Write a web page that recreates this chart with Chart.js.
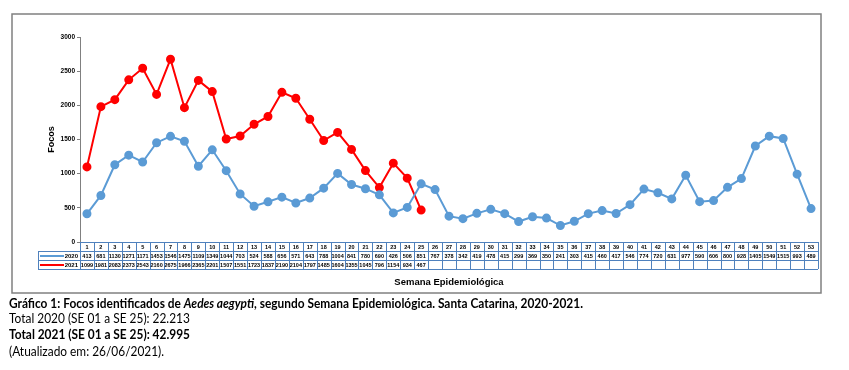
<!DOCTYPE html>
<html><head><meta charset="utf-8">
<script src="https://cdn.jsdelivr.net/npm/chart.js@4"></script>
<style>
body{margin:0;background:#fff;width:849px;height:370px;overflow:hidden;position:relative;}
#wrap{position:absolute;left:0;top:0;width:849px;height:300px}
.cap{position:absolute;left:9px;font-family:Lato,"Open Sans",sans-serif;font-size:13px;white-space:nowrap;color:#000;transform-origin:0 50%;line-height:16px}
.b{font-weight:bold}
</style></head><body>
<div id="wrap"><canvas id="c" width="849" height="300"></canvas></div>
<div class="cap b" id="l1" style="top:295px">Gráfico 1: Focos identificados de <i>Aedes aegypti</i>, segundo Semana Epidemiológica. Santa Catarina, 2020-2021.</div>
<div class="cap" id="l2" style="top:310px">Total 2020 (SE 01 a SE 25): 22.213</div>
<div class="cap b" id="l3" style="top:326px">Total 2021 (SE 01 a SE 25): 42.995</div>
<div class="cap" id="l4" style="top:343px">(Atualizado em: 26/06/2021).</div>
<script>
const weeks = Array.from({length:53},(_,i)=>String(i+1));
const series2020 = [413,681,1130,1271,1171,1453,1546,1475,1109,1349,1044,703,524,588,656,571,643,788,1004,841,780,690,426,506,851,767,378,342,419,478,415,299,369,350,241,303,415,460,417,546,774,720,631,977,590,606,800,928,1405,1549,1515,993,489];
const series2021 = [1099,1981,2083,2373,2543,2160,2675,1966,2365,2201,1507,1551,1723,1837,2190,2104,1797,1485,1604,1355,1045,796,1154,934,467];
const yTicks = [0,500,1000,1500,2000,2500,3000];
const labels2020 = '2020', labels2021 = '2021';
const blue = '#5b9bd5', red = '#ff0000', gridBlue = '#4f81bd';

(function(){
  const l1 = document.getElementById('l1');
  const w = l1.getBoundingClientRect().width;
  const s = 574 / w;
  document.querySelectorAll('.cap').forEach(e=>e.style.transform='scaleX('+s+')');
})();

const framePlugin = {
  id:'frame',
  beforeDraw(chart){
    const ctx = chart.ctx;
    ctx.save();
    ctx.strokeStyle='#808080'; ctx.lineWidth=1.5;
    ctx.strokeRect(12,14,809,279);
    ctx.restore();
  }
};

const tablePlugin = {
  id:'table',
  afterDraw(chart){
    const ctx = chart.ctx;
    const xs = chart.scales.x;
    const top = chart.chartArea.bottom;
    const rh = 9;
    const n = weeks.length;
    const half = (xs.getPixelForValue(1)-xs.getPixelForValue(0))/2;
    const left = xs.getPixelForValue(0)-half, right = xs.getPixelForValue(n-1)+half;
    ctx.save();
    ctx.strokeStyle = gridBlue; ctx.lineWidth = 1;
    [top, top+rh, top+2*rh, top+3*rh].forEach((y,i)=>{
      ctx.beginPath(); ctx.moveTo(i===0?left:38, y+0.5); ctx.lineTo(right, y+0.5); ctx.stroke();
    });
    for(let i=0;i<=n;i++){
      const x = Math.round(left + i*2*half)+0.5;
      ctx.beginPath(); ctx.moveTo(x, top); ctx.lineTo(x, top+3*rh); ctx.stroke();
    }
    ctx.beginPath(); ctx.moveTo(38.5, top+rh); ctx.lineTo(38.5, top+3*rh); ctx.stroke();
    ctx.fillStyle='#000';
    ctx.textAlign='center'; ctx.textBaseline='middle';
    ctx.font='bold 5.5px Arial, "Liberation Sans", sans-serif';
    for(let i=0;i<n;i++){
      const x = xs.getPixelForValue(i);
      ctx.fillText(weeks[i], x, top+rh/2+0.5);
      if(series2020[i]!=null) ctx.fillText(String(series2020[i]), x, top+rh*1.5+0.5);
      if(series2021[i]!=null) ctx.fillText(String(series2021[i]), x, top+rh*2.5+0.5);
    }
    ctx.font='bold 6px Arial, "Liberation Sans", sans-serif';
    ctx.textAlign='right';
    ctx.fillText(labels2020, 78, top+rh*1.5+0.5);
    ctx.fillText(labels2021, 78, top+rh*2.5+0.5);
    ctx.lineWidth=2;
    ctx.strokeStyle=blue;
    ctx.beginPath(); ctx.moveTo(40, top+rh*1.5+0.5); ctx.lineTo(64, top+rh*1.5+0.5); ctx.stroke();
    ctx.strokeStyle=red;
    ctx.beginPath(); ctx.moveTo(40, top+rh*2.5+0.5); ctx.lineTo(64, top+rh*2.5+0.5); ctx.stroke();
    ctx.restore();
  }
};

new Chart(document.getElementById('c'),{
  type:'line',
  data:{labels:weeks,datasets:[
    {label:labels2020,data:series2020,borderColor:blue,backgroundColor:blue,borderWidth:2,pointRadius:3.5,pointHoverRadius:3.5,tension:0},
    {label:labels2021,data:series2021,borderColor:red,backgroundColor:red,borderWidth:2,pointRadius:3.5,pointHoverRadius:3.5,tension:0}
  ]},
  options:{
    responsive:false,animation:false,
    layout:{padding:{left:42,right:31,top:37,bottom:12}},
    plugins:{legend:{display:false},tooltip:{enabled:false}},
    scales:{
      x:{type:'category',offset:true,
        grid:{display:false,drawTicks:false},
        border:{display:false},
        ticks:{display:false},
        title:{display:true,text:'Semana Epidemiológica',color:'#000',font:{family:'Arial, "Liberation Sans", sans-serif',size:9.5,weight:'bold'},padding:0},
        afterFit(s){s.height=46;}
      },
      y:{min:0,max:3000,
        afterBuildTicks(s){s.ticks=yTicks.map(v=>({value:v}));},
        ticks:{color:'#000',font:{family:'Arial, "Liberation Sans", sans-serif',size:6.5,weight:'bold'},padding:2,callback:(v)=>String(v)},
        grid:{display:true,drawOnChartArea:false,tickLength:3,color:'#808080'},
        border:{display:true,color:'#808080',width:1},
        title:{display:true,text:'Focos',color:'#000',font:{family:'Arial, "Liberation Sans", sans-serif',size:9,weight:'bold'},padding:{top:4,bottom:4}},
        afterFit(s){s.width=38;}
      }
    }
  },
  plugins:[framePlugin,tablePlugin]
});
</script>
</body></html>
